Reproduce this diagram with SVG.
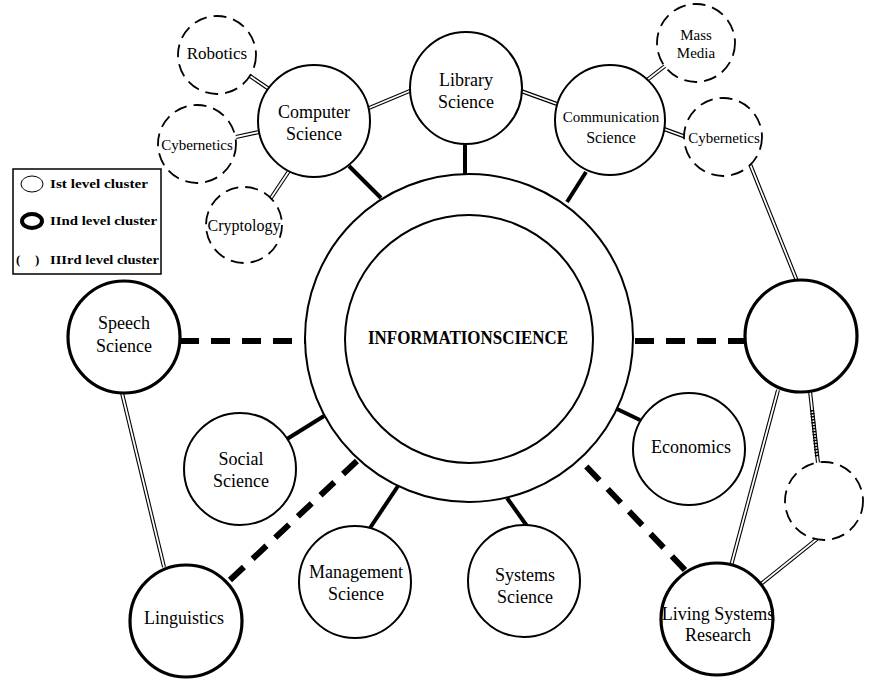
<svg xmlns="http://www.w3.org/2000/svg" width="871" height="684" viewBox="0 0 871 684">
<style>
text{font-family:"Liberation Serif","Times New Roman",serif;fill:#000;text-anchor:middle}
.n{font-size:18px}
.s{font-size:15px}
.c1{fill:#fff;stroke:#000;stroke-width:2}
.c2{fill:#fff;stroke:#000;stroke-width:3.2}
.c3{fill:#fff;stroke:#000;stroke-width:1.8;stroke-dasharray:13 7}
.solid{stroke:#000;stroke-width:4;fill:none}
.dash{stroke:#000;stroke-width:6;stroke-dasharray:19 12;fill:none}
.dbl{stroke:#000;stroke-width:4;fill:none}
.dblin{stroke:#fff;stroke-width:1.8;fill:none}
.leg{font-size:13px;font-weight:bold;text-anchor:start}
</style>
<rect width="871" height="684" fill="#fff"/>

<g id="connectors">
  <!-- thick solid -->
  <line class="solid" x1="349" y1="166" x2="381" y2="198"/>
  <line class="solid" x1="465" y1="143" x2="465" y2="175"/>
  <line class="solid" x1="586" y1="172" x2="567" y2="202"/>
  <line class="solid" x1="287" y1="439" x2="324" y2="416"/>
  <line class="solid" x1="370" y1="528" x2="398" y2="486"/>
  <line class="solid" x1="507" y1="498" x2="527" y2="526"/>
  <line class="solid" x1="617" y1="409" x2="640" y2="420"/>
  <!-- thick dashed -->
  <line class="dash" x1="180" y1="341" x2="306" y2="341"/>
  <line class="dash" x1="747" y1="341" x2="633" y2="341"/>
  <line class="dash" x1="230" y1="580" x2="358" y2="460"/>
  <line class="dash" x1="685" y1="570" x2="582" y2="462"/>
  <!-- double lines -->
  <g>
    <line class="dbl" x1="250" y1="76" x2="269" y2="89"/>
    <line class="dbl" x1="236" y1="137" x2="259" y2="132"/>
    <line class="dbl" x1="271" y1="198" x2="289" y2="171"/>
    <line class="dbl" x1="369" y1="108" x2="412" y2="90"/>
    <line class="dbl" x1="521" y1="91" x2="557" y2="104"/>
    <line class="dbl" x1="647" y1="80" x2="665" y2="66"/>
    <line class="dbl" x1="664" y1="129" x2="686" y2="137"/>
    <line class="dbl" x1="750" y1="164" x2="797" y2="281"/>
    <line class="dbl" x1="778" y1="390" x2="731" y2="566"/>
    <line class="dbl" x1="810" y1="391" x2="818" y2="463"/>
    <line class="dbl" x1="761" y1="584" x2="817" y2="539"/>
    <line class="dbl" x1="122" y1="393" x2="164" y2="567"/>
  </g>
  <g>
    <line class="dblin" x1="250" y1="76" x2="269" y2="89"/>
    <line class="dblin" x1="236" y1="137" x2="259" y2="132"/>
    <line class="dblin" x1="271" y1="198" x2="289" y2="171"/>
    <line class="dblin" x1="369" y1="108" x2="412" y2="90"/>
    <line class="dblin" x1="521" y1="91" x2="557" y2="104"/>
    <line class="dblin" x1="647" y1="80" x2="665" y2="66"/>
    <line class="dblin" x1="664" y1="129" x2="686" y2="137"/>
    <line class="dblin" x1="750" y1="164" x2="797" y2="281"/>
    <line class="dblin" x1="778" y1="390" x2="731" y2="566"/>
    <line class="dblin" x1="810" y1="391" x2="818" y2="463"/>
    <line class="dblin" x1="761" y1="584" x2="817" y2="539"/>
    <line class="dblin" x1="122" y1="393" x2="164" y2="567"/>
  </g>
  <line x1="812" y1="410" x2="817" y2="457" stroke="#000" stroke-width="4" stroke-dasharray="1.5 1.5"/>
</g>

<g id="information-science">
  <circle class="c1" cx="469" cy="338" r="164"/>
  <circle class="c1" cx="469" cy="339" r="124"/>
  <text x="468" y="344" font-size="18" font-weight="bold" textLength="200" lengthAdjust="spacingAndGlyphs">INFORMATIONSCIENCE</text>
</g>

<g id="computer-science">
  <circle class="c1" cx="314" cy="121" r="56"/>
  <text class="n" x="314" y="118">Computer</text>
  <text class="n" x="314" y="140">Science</text>
</g>
<g id="library-science">
  <circle class="c1" cx="466" cy="88" r="56"/>
  <text class="n" x="466" y="86">Library</text>
  <text class="n" x="466" y="108">Science</text>
</g>
<g id="communication-science">
  <circle class="c1" cx="610" cy="120" r="55"/>
  <text x="611" y="122" font-size="15">Communication</text>
  <text x="611" y="143" font-size="16">Science</text>
</g>
<g id="robotics">
  <circle class="c3" cx="217" cy="55" r="39"/>
  <text x="217" y="59" font-size="17">Robotics</text>
</g>
<g id="cybernetics-left">
  <circle class="c3" cx="197" cy="144" r="39"/>
  <text x="197" y="150" font-size="15">Cybernetics</text>
</g>
<g id="cryptology">
  <circle class="c3" cx="244" cy="225" r="38"/>
  <text x="244" y="231" font-size="16">Cryptology</text>
</g>
<g id="mass-media">
  <circle class="c3" cx="696" cy="43" r="39"/>
  <text class="s" x="696" y="40">Mass</text>
  <text class="s" x="696" y="58">Media</text>
</g>
<g id="cybernetics-right">
  <circle class="c3" cx="723" cy="137" r="39"/>
  <text x="724" y="143" font-size="15">Cybernetics</text>
</g>
<g id="unlabeled-right">
  <circle class="c2" cx="801" cy="336" r="56"/>
</g>
<g id="unlabeled-small">
  <circle class="c3" cx="824" cy="501" r="39"/>
</g>
<g id="speech-science">
  <circle class="c2" cx="124" cy="337" r="56"/>
  <text class="n" x="124" y="329">Speech</text>
  <text class="n" x="124" y="352">Science</text>
</g>
<g id="social-science">
  <circle class="c1" cx="240" cy="469" r="56"/>
  <text class="n" x="241" y="465">Social</text>
  <text class="n" x="241" y="487">Science</text>
</g>
<g id="linguistics">
  <circle class="c2" cx="186" cy="621" r="56"/>
  <text class="n" x="184" y="624">Linguistics</text>
</g>
<g id="management-science">
  <circle class="c1" cx="355" cy="582" r="56"/>
  <text class="n" x="356" y="578">Management</text>
  <text class="n" x="356" y="600">Science</text>
</g>
<g id="systems-science">
  <circle class="c1" cx="524" cy="581" r="56"/>
  <text class="n" x="525" y="581">Systems</text>
  <text class="n" x="525" y="603">Science</text>
</g>
<g id="economics">
  <circle class="c1" cx="689" cy="449" r="56"/>
  <text class="n" x="691" y="453">Economics</text>
</g>
<g id="living-systems-research">
  <circle class="c2" cx="717" cy="619" r="56"/>
  <text class="n" x="718" y="620">Living Systems</text>
  <text class="n" x="718" y="641">Research</text>
</g>

<g id="legend">
  <rect x="13" y="169" width="148" height="105" fill="#fff" stroke="#000" stroke-width="1.5"/>
  <ellipse cx="32" cy="184" rx="11" ry="8" fill="none" stroke="#000" stroke-width="1"/>
  <text class="leg" x="50" y="188" textLength="98" lengthAdjust="spacingAndGlyphs">Ist level cluster</text>
  <ellipse cx="32" cy="221" rx="10" ry="7" fill="none" stroke="#000" stroke-width="4"/>
  <text class="leg" x="50" y="225" textLength="107" lengthAdjust="spacingAndGlyphs">IInd level cluster</text>
  <text class="leg" x="16" y="264" font-size="15">(<tspan x="35">)</tspan></text>
  <text class="leg" x="50" y="264" textLength="109" lengthAdjust="spacingAndGlyphs">IIIrd level cluster</text>
</g>
</svg>
